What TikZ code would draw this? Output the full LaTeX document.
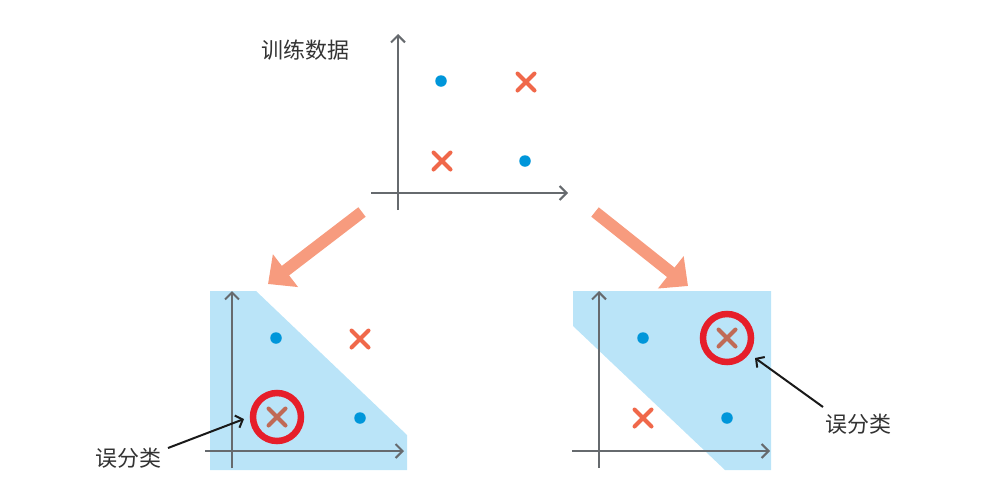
\documentclass[tikz,border=0pt]{standalone}
\usepackage{fontspec}
\setmainfont{Noto Sans CJK SC}
\usetikzlibrary{arrows.meta,shapes.misc}
\definecolor{axisgray}{HTML}{666A6E}
\definecolor{dotblue}{HTML}{0096DA}
\definecolor{crossred}{HTML}{F0684A}
\definecolor{crossbrown}{HTML}{C06A55}
\definecolor{ringred}{HTML}{E61E2A}
\definecolor{regionblue}{HTML}{BAE4F8}
\definecolor{bigarrow}{HTML}{F79B7E}
\definecolor{txtgray}{HTML}{333333}
\begin{document}
\begin{tikzpicture}[x=1pt,y=-1pt,
  axisline/.style={draw=axisgray, line width=2pt, -{Straight Barb[length=7pt,width=14pt]}},
  dotmark/.style={circle, fill=dotblue, inner sep=0pt, minimum size=11.5pt},
  crossmark/.style={cross out, draw=crossred, line width=4pt, line cap=round, inner sep=0pt, minimum size=13pt},
  badcross/.style={crossmark, draw=crossbrown},
  ring/.style={circle, draw=ringred, line width=6.5pt, inner sep=0pt, minimum size=48pt},
  region/.style={fill=regionblue},
  label/.style={text=txtgray, font=\fontsize{22pt}{26pt}\selectfont, inner sep=0pt},
  pointer/.style={draw=black!90, line width=2pt, -{Straight Barb[length=6pt,width=13pt]}},
  fatarrow/.style={draw=bigarrow, line width=12pt, -{Triangle[length=22pt,width=40pt]}}
]
\useasboundingbox (0,0) rectangle (981,496);

% ---------- top: training data ----------
\coordinate (tyb) at (398,210);
\coordinate (tyt) at (398,34);
\coordinate (txl) at (371,193);
\coordinate (txr) at (568,193);
\draw[axisline] (tyb) -- (tyt);
\draw[axisline] (txl) -- (txr);
\node[dotmark] (t1) at (441,81) {};
\node[crossmark] (t2) at (526,82) {};
\node[crossmark] (t3) at (442,161) {};
\node[dotmark] (t4) at (525,161) {};
\node[label] (title) at (305,50) {训练数据};

% ---------- big arrows ----------
\coordinate (a1s) at (362,212);
\coordinate (a1e) at (268,284);
\coordinate (a2s) at (595,212);
\coordinate (a2e) at (688,286);
\draw[fatarrow] (a1s) -- (a1e);
\draw[fatarrow] (a2s) -- (a2e);

% ---------- left result ----------
\fill[region] (210,291) -- (256,291) -- (407,435) -- (407,470) -- (210,470) -- cycle;
\coordinate (lyb) at (232,468);
\coordinate (lyt) at (232,291);
\coordinate (lxl) at (205,451);
\coordinate (lxr) at (404,451);
\draw[axisline] (lyb) -- (lyt);
\draw[axisline] (lxl) -- (lxr);
\node[dotmark] (l1) at (276,338) {};
\node[crossmark] (l2) at (360,339) {};
\node[badcross] (l3) at (277,417) {};
\node[ring] (lr) at (277,417) {};
\node[dotmark] (l4) at (360,418) {};
\node[label] (llab) at (128,458) {误分类};
\coordinate (lp1) at (168,448);
\coordinate (lp2) at (244,419);
\draw[pointer] (lp1) -- (lp2);

% ---------- right result ----------
\fill[region] (573,291) -- (771,291) -- (771,470) -- (725,470) -- (573,326) -- cycle;
\coordinate (ryb) at (599,468);
\coordinate (ryt) at (599,291);
\coordinate (rxl) at (572,451);
\coordinate (rxr) at (770,451);
\draw[axisline] (ryb) -- (ryt);
\draw[axisline] (rxl) -- (rxr);
\node[dotmark] (r1) at (643,338) {};
\node[badcross] (r2) at (727,338) {};
\node[ring] (rr) at (727,338) {};
\node[crossmark] (r3) at (643,418) {};
\node[dotmark] (r4) at (727,418) {};
\node[label] (rlab) at (858,424) {误分类};
\coordinate (rp1) at (823,407);
\coordinate (rp2) at (755,358);
\draw[pointer] (rp1) -- (rp2);
\end{tikzpicture}
\end{document}
